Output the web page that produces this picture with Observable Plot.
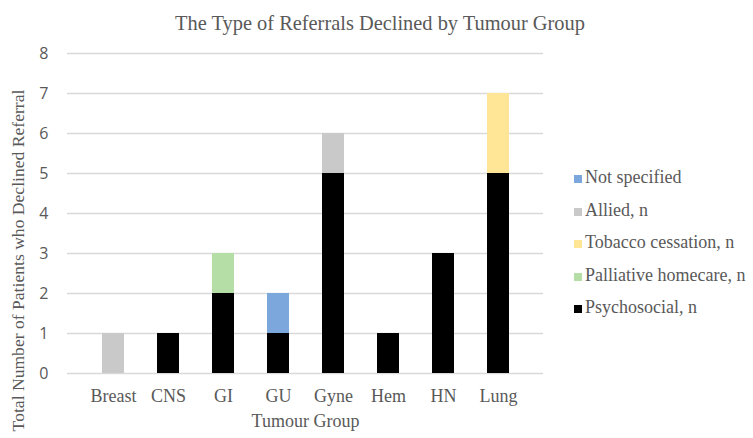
<!DOCTYPE html>
<html><head><meta charset="utf-8">
<script src="https://cdn.jsdelivr.net/npm/d3@7"></script>
<script src="https://cdn.jsdelivr.net/npm/@observablehq/plot@0.6"></script>
<style>
body{margin:0;background:#fff;}
#wrap{position:relative;width:753px;height:438px;}
#title{position:absolute;left:0;width:760px;top:12px;text-align:center;font-family:'Liberation Serif','Times New Roman',serif;font-size:20.4px;color:#595959;}
#legend{position:absolute;left:574px;top:167px;font-family:'Liberation Serif','Times New Roman',serif;font-size:18px;color:#595959;}
#legend div{height:32.5px;display:flex;align-items:flex-start;white-space:nowrap;}
#legend span.sw{display:inline-block;width:8px;height:8px;margin-right:3px;margin-top:8px;}
</style></head>
<body><div id="wrap"><div id="title">The Type of Referrals Declined by Tumour Group</div><div id="legend"></div></div>
<script>
const groups = ["Breast","CNS","GI","GU","Gyne","Hem","HN","Lung"];
const seriesNames = ["Not specified","Allied, n","Tobacco cessation, n","Palliative homecare, n","Psychosocial, n"];
const seriesColors = ["#7ba7dd","#c9c9c9","#ffe596","#b5dea6","#000000"];
const notSpecified = [0,0,0,1,0,0,0,0];
const allied = [1,0,0,0,1,0,0,0];
const tobacco = [0,0,0,0,0,0,0,2];
const palliative = [0,0,1,0,0,0,0,0];
const psychosocial = [0,1,2,1,5,1,3,5];
const yTicks = [0,1,2,3,4,5,6,7,8];

const serif = "'Liberation Serif', 'Times New Roman', serif";
const seriesValues = [notSpecified, allied, tobacco, palliative, psychosocial];
const rows = [];
seriesNames.forEach((s, i) => groups.forEach((g, j) => {
  if (seriesValues[i][j] > 0) rows.push({group: g, series: s, value: seriesValues[i][j]});
}));
const stackOrder = seriesNames.slice().reverse();

const chart = Plot.plot({
  width: 753, height: 438,
  marginLeft: 67, marginRight: 210, marginTop: 53, marginBottom: 65,
  style: {background: "transparent", fontFamily: serif},
  x: {domain: groups, padding: 0.6, label: null},
  y: {domain: [0, 8], label: null},
  color: {domain: seriesNames, range: seriesColors},
  marks: [
    Plot.ruleY(yTicks, {stroke: "#d9d9d9", strokeWidth: 1.5}),
    Plot.barY(rows, Plot.stackY({order: stackOrder}, {x: "group", y: "value", z: "series", fill: "series"})),
    Plot.axisY(yTicks, {tickSize: 0, tickPadding: 19, fontFamily: "'Open Sans', sans-serif", fontSize: 16, fill: "#595959", label: null}),
    Plot.axisX({tickSize: 0, tickPadding: 16, fontFamily: serif, fontSize: 18, fill: "#595959", label: null}),
    Plot.text(["Tumour Group"], {frameAnchor: "bottom", dy: 48, fontFamily: serif, fontSize: 18, fill: "#595959", lineAnchor: "middle"}),
    Plot.text(["Total Number of Patients who Declined Referral"], {frameAnchor: "left", dx: -49, dy: 47, rotate: -90, textAnchor: "middle", fontFamily: serif, fontSize: 17.6, fill: "#595959"})
  ]
});
document.getElementById("wrap").appendChild(chart);
chart.style.position = "absolute"; chart.style.left = "0"; chart.style.top = "0";
const lg = document.getElementById("legend");
seriesNames.forEach((s, i) => {
  const d = document.createElement("div");
  d.innerHTML = `<span class="sw" style="background:${seriesColors[i]}"></span>${s}`;
  lg.appendChild(d);
});
</script></body></html>
